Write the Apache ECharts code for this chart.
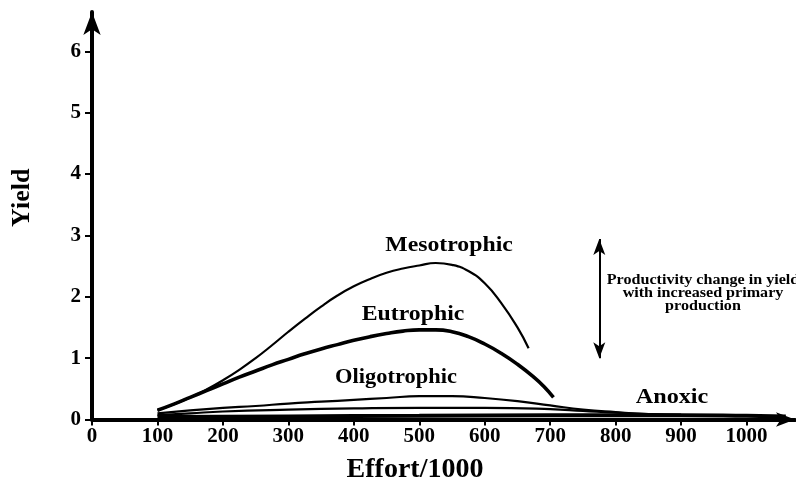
<!DOCTYPE html>
<html><head><meta charset="utf-8">
<script src="https://cdn.jsdelivr.net/npm/echarts@6/dist/echarts.min.js"></script>
<style>html,body{margin:0;padding:0;background:#fff}#c{width:796px;height:489px}</style>
</head><body><div id="c"></div>
<script>
// ---- data ----
const xTicks = [0, 100, 200, 300, 400, 500, 600, 700, 800, 900, 1000];
const yTicks = [0, 1, 2, 3, 4, 5, 6];

const mesoEffort = [100, 125, 150, 175, 200, 225, 250, 275, 300, 325, 350, 375, 400, 425, 450, 475, 500, 525, 550, 575, 600, 625, 650, 667];
const mesoYield  = [0.15, 0.25, 0.36, 0.49, 0.64, 0.81, 1.0, 1.21, 1.43, 1.64, 1.84, 2.02, 2.17, 2.29, 2.39, 2.46, 2.51, 2.55, 2.52, 2.42, 2.22, 1.9, 1.5, 1.16];

const eutroEffort = [100, 125, 150, 175, 200, 225, 250, 275, 300, 325, 350, 375, 400, 425, 450, 475, 500, 525, 550, 575, 600, 625, 650, 675, 690, 705];
const eutroYield  = [0.15, 0.25, 0.36, 0.47, 0.58, 0.69, 0.79, 0.89, 0.98, 1.07, 1.15, 1.22, 1.29, 1.35, 1.4, 1.44, 1.46, 1.46, 1.43, 1.35, 1.23, 1.08, 0.9, 0.69, 0.54, 0.36];

const oligoEffort = [100, 150, 200, 250, 300, 350, 400, 450, 500, 550, 600, 650, 700, 750, 800, 850, 900];
const oligoYield  = [0.1, 0.15, 0.19, 0.22, 0.26, 0.29, 0.32, 0.35, 0.38, 0.38, 0.35, 0.3, 0.23, 0.16, 0.12, 0.09, 0.08];

const lowEffort = [100, 150, 200, 300, 400, 500, 600, 700, 750, 800, 850, 900];
const lowYield  = [0.07, 0.1, 0.13, 0.16, 0.18, 0.19, 0.19, 0.17, 0.14, 0.11, 0.09, 0.07];

const anoxEffort = [100, 300, 500, 700, 900, 1000, 1060];
const anoxYield  = [0.04, 0.05, 0.06, 0.07, 0.07, 0.06, 0.05];

const arrowEffort = [775, 775];
const arrowYield  = [2.94, 1.0];

const curveNames = ['Mesotrophic', 'Eutrophic', 'Oligotrophic', 'Anoxic'];
const noteLines = ['Productivity change in yield', 'with increased primary', 'production'];

// ---- build ----
const pairs = (xs, ys) => xs.map((x, i) => [x, ys[i]]);
const FONT = '"Liberation Serif", "Times New Roman", serif';

function lineSeries(name, xs, ys, w, extra) {
  return Object.assign({
    name: name, type: 'line', data: pairs(xs, ys), smooth: 0.5,
    showSymbol: false, symbol: 'none', silent: true,
    lineStyle: { color: '#000', width: w }
  }, extra || {});
}

const chart = echarts.init(document.getElementById('c'), null, { renderer: 'canvas' });

const option = {
  animation: false,
  backgroundColor: '#fff',
  grid: { left: 92, right: 1, top: 12, bottom: 69.5, containLabel: false },
  xAxis: {
    type: 'value', min: 0, max: 1074,
    name: 'Effort/1000', nameLocation: 'middle', nameGap: 36,
    nameTextStyle: { fontFamily: FONT, fontWeight: 'bold', fontSize: 28, color: '#000', padding: [0, 57, 0, 0] },
    axisLine: { show: true, symbol: ['none', 'arrow'], symbolSize: [11, 19], lineStyle: { color: '#000', width: 4 } },
    axisTick: { show: true, customValues: xTicks, length: 6, lineStyle: { color: '#000', width: 2 } },
    axisLabel: { customValues: xTicks, margin: 7, formatter: v => String(v), fontFamily: FONT, fontWeight: 'bold', fontSize: 21, color: '#000' },
    splitLine: { show: false }
  },
  yAxis: {
    type: 'value', min: 0, max: 6.64, interval: 1,
    name: 'Yield', nameLocation: 'middle', nameGap: 57, nameRotate: 90,
    nameTextStyle: { fontFamily: FONT, fontWeight: 'bold', fontSize: 26, color: '#000', padding: [0, 0, 0, 36] },
    axisLine: { show: true, symbol: ['none', 'arrow'], symbolSize: [13, 23], lineStyle: { color: '#000', width: 4 } },
    axisTick: { show: true, customValues: yTicks, length: 7, lineStyle: { color: '#000', width: 2 } },
    axisLabel: { customValues: yTicks, margin: 11, formatter: v => String(v), fontFamily: FONT, fontWeight: 'bold', fontSize: 21, color: '#000' },
    splitLine: { show: false }
  },
  series: [
    lineSeries(curveNames[0], mesoEffort, mesoYield, 2.2, {
      markLine: {
        silent: true, symbol: ['arrow', 'arrow'], symbolSize: [9, 16],
        label: { show: false },
        lineStyle: { color: '#000', width: 2, type: 'solid' },
        data: [[{ coord: [arrowEffort[0], arrowYield[0]] }, { coord: [arrowEffort[1], arrowYield[1]] }]]
      }
    }),
    lineSeries(curveNames[1], eutroEffort, eutroYield, 3.6),
    lineSeries(curveNames[2], oligoEffort, oligoYield, 2.2),
    lineSeries('Low', lowEffort, lowYield, 2.2),
    lineSeries(curveNames[3], anoxEffort, anoxYield, 4)
  ],
  graphic: [
    { type: 'text', x: 449, y: 245, scaleX: 1.08, style: { text: curveNames[0], font: 'bold 22px ' + FONT, fill: '#000', textAlign: 'center', textVerticalAlign: 'middle' } },
    { type: 'text', x: 413, y: 314, scaleX: 1.08, style: { text: curveNames[1], font: 'bold 22px ' + FONT, fill: '#000', textAlign: 'center', textVerticalAlign: 'middle' } },
    { type: 'text', x: 396, y: 377, scaleX: 1.02, style: { text: curveNames[2], font: 'bold 22px ' + FONT, fill: '#000', textAlign: 'center', textVerticalAlign: 'middle' } },
    { type: 'text', x: 672, y: 397, scaleX: 1.1, style: { text: curveNames[3], font: 'bold 22px ' + FONT, fill: '#000', textAlign: 'center', textVerticalAlign: 'middle' } },
    { type: 'text', x: 703, y: 280, scaleX: 1.15, style: { text: noteLines[0], font: 'bold 14px ' + FONT, fill: '#000', textAlign: 'center', textVerticalAlign: 'middle' } },
    { type: 'text', x: 703, y: 293, scaleX: 1.15, style: { text: noteLines[1], font: 'bold 14px ' + FONT, fill: '#000', textAlign: 'center', textVerticalAlign: 'middle' } },
    { type: 'text', x: 703, y: 306, scaleX: 1.15, style: { text: noteLines[2], font: 'bold 14px ' + FONT, fill: '#000', textAlign: 'center', textVerticalAlign: 'middle' } }
  ]
};
chart.setOption(option);
</script>
</body></html>
